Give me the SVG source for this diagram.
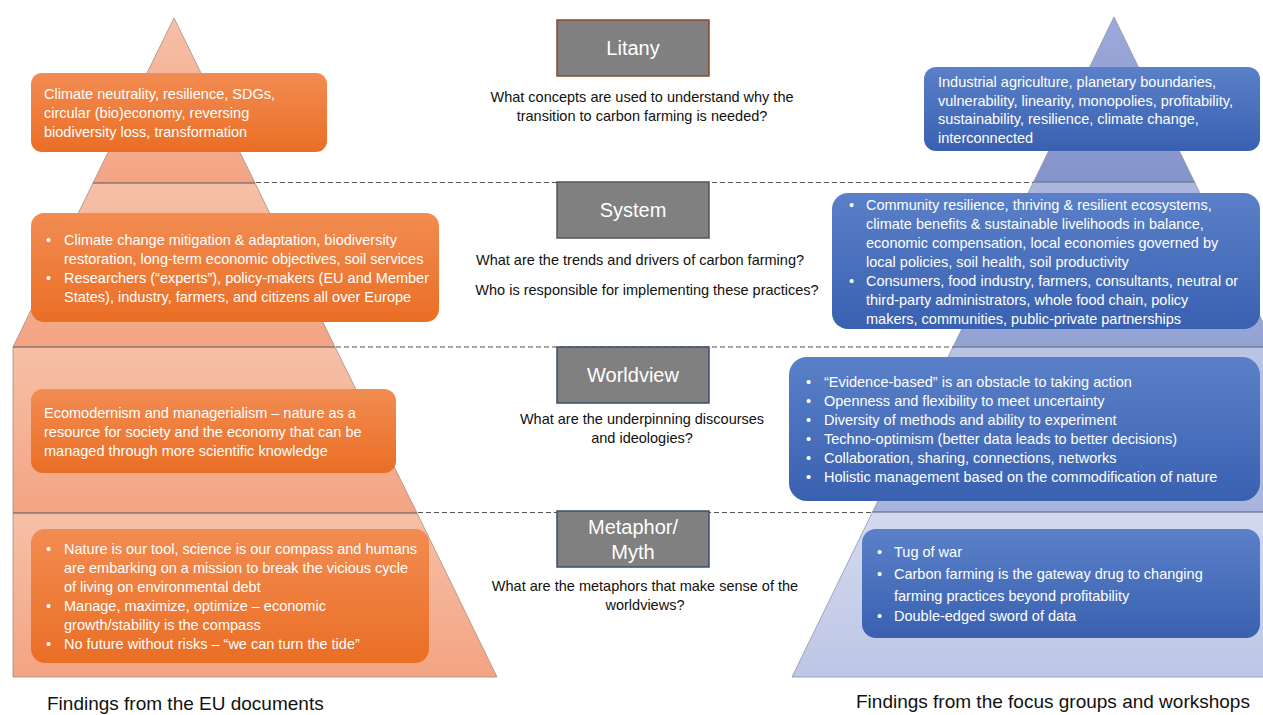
<svg xmlns="http://www.w3.org/2000/svg" width="1263" height="715" viewBox="0 0 1263 715">
<defs>
<linearGradient id="gOrTier" x1="0" y1="0" x2="0" y2="1"><stop offset="0" stop-color="#F6C0A7"/><stop offset="1" stop-color="#F3A483"/></linearGradient>
<linearGradient id="gBl1" x1="0" y1="0" x2="0" y2="1"><stop offset="0" stop-color="#9DAADA"/><stop offset="1" stop-color="#8494CB"/></linearGradient>
<linearGradient id="gBl2" x1="0" y1="0" x2="0" y2="1"><stop offset="0" stop-color="#ABB7DF"/><stop offset="1" stop-color="#93A2D3"/></linearGradient>
<linearGradient id="gBl3" x1="0" y1="0" x2="0" y2="1"><stop offset="0" stop-color="#BAC4E5"/><stop offset="1" stop-color="#A8B4DC"/></linearGradient>
<linearGradient id="gBl4" x1="0" y1="0" x2="0" y2="1"><stop offset="0" stop-color="#D3D9EE"/><stop offset="1" stop-color="#BDC6E6"/></linearGradient>
<linearGradient id="gOrBox" x1="0" y1="0" x2="0" y2="1"><stop offset="0" stop-color="#F28C52"/><stop offset="1" stop-color="#EA6E25"/></linearGradient>
<linearGradient id="gBlBox" x1="0" y1="0" x2="0" y2="1"><stop offset="0" stop-color="#5B80C9"/><stop offset="1" stop-color="#3961B0"/></linearGradient>
<clipPath id="clipR"><rect x="0" y="0" width="1263" height="715"/></clipPath>
</defs>
<style>
.ot{fill:url(#gOrTier);stroke:#A88B80;stroke-width:0.8}
.tl{stroke:#7D6A62;stroke-width:1.2}
.tlb{stroke:#6C7389;stroke-width:1.2}
.bt{stroke:#8E93A8;stroke-width:0.8}
.ob{fill:url(#gOrBox)}
.bb{fill:url(#gBlBox)}
.gb{fill:#808080;stroke-width:1.5}
.dash{stroke:#555;stroke-width:1.2;stroke-dasharray:5 3;fill:none}
text{font-family:"Liberation Sans",Arial,sans-serif}
.w{fill:#fff;font-size:14.5px}
.q{fill:#111;font-size:14.5px;text-anchor:middle}
.lab{fill:#fff;font-size:20px;text-anchor:middle}
.foot{fill:#111;font-size:19px}
</style>

<g id="pyramid-left">
<polygon class="ot" points="174,18 255,183 93,183"/>
<polygon class="ot" points="93,183 255,183 335,347 13,347"/>
<polygon class="ot" points="13,347 335,347 417,513 13,513"/>
<polygon class="ot" points="13,513 417,513 497,677 13,677"/>
<line class="tl" x1="93" y1="183" x2="255" y2="183"/>
<line class="tl" x1="13" y1="347" x2="335" y2="347"/>
<line class="tl" x1="13" y1="513" x2="417" y2="513"/>
</g>

<g id="pyramid-right" clip-path="url(#clipR)">
<polygon fill="url(#gBl1)" class="bt" points="1114,17 1194.5,182 1033.5,182"/>
<polygon fill="url(#gBl2)" class="bt" points="1033.5,182 1194.5,182 1275,347 953,347"/>
<polygon fill="url(#gBl3)" class="bt" points="953,347 1300,347 1300,512 872.5,512"/>
<polygon fill="url(#gBl4)" class="bt" points="872.5,512 1300,512 1300,677 792,677"/>
<line class="tlb" x1="1033.5" y1="182" x2="1194.5" y2="182"/>
<line class="tlb" x1="953" y1="347" x2="1263" y2="347"/>
<line class="tlb" x1="872.5" y1="512" x2="1263" y2="512"/>
</g>

<g id="connectors">
<line class="dash" x1="256" y1="182.5" x2="1033" y2="182.5"/>
<line class="dash" x1="336" y1="347" x2="953" y2="347"/>
<line class="dash" x1="418" y1="512.5" x2="872" y2="512.5"/>
</g>

<g id="label-litany">
<rect class="gb" x="557" y="20" width="152" height="56" stroke="#8B4A2B"/>
<text class="lab" x="633" y="55">Litany</text>
<text class="q" x="642" y="102">What concepts are used to understand why the</text>
<text class="q" x="642" y="121">transition to carbon farming is needed?</text>
</g>
<g id="label-system">
<rect class="gb" x="557" y="182" width="152" height="56" stroke="#555"/>
<text class="lab" x="633" y="217">System</text>
<text class="q" x="640" y="265">What are the trends and drivers of carbon farming?</text>
<text class="q" x="647" y="295">Who is responsible for implementing these practices?</text>
</g>
<g id="label-worldview">
<rect class="gb" x="557" y="347" width="152" height="56" stroke="#3B4E6E"/>
<text class="lab" x="633" y="382">Worldview</text>
<text class="q" x="642" y="424">What are the underpinning discourses</text>
<text class="q" x="642" y="443">and ideologies?</text>
</g>
<g id="label-metaphor">
<rect class="gb" x="557" y="511" width="152" height="56" stroke="#3B4E6E"/>
<text class="lab" x="633" y="534">Metaphor/</text>
<text class="lab" x="633" y="559">Myth</text>
<text class="q" x="645" y="591">What are the metaphors that make sense of the</text>
<text class="q" x="645" y="610">worldviews?</text>
</g>

<g id="eu-litany">
<rect class="ob" x="31" y="73" width="296" height="79" rx="11"/>
<text class="w" x="44" y="99">Climate neutrality, resilience, SDGs,</text>
<text class="w" x="44" y="118">circular (bio)economy, reversing</text>
<text class="w" x="44" y="137">biodiversity loss, transformation</text>
</g>
<g id="eu-system">
<rect class="ob" x="31" y="213" width="408" height="109" rx="13"/>
<text class="w" x="46" y="245">•</text>
<text class="w" x="64" y="245">Climate change mitigation &amp; adaptation, biodiversity</text>
<text class="w" x="64" y="264">restoration, long-term economic objectives, soil services</text>
<text class="w" x="46" y="283">•</text>
<text class="w" x="64" y="283">Researchers (“experts”), policy-makers (EU and Member</text>
<text class="w" x="64" y="302">States), industry, farmers, and citizens all over Europe</text>
</g>
<g id="eu-worldview">
<rect class="ob" x="31" y="389" width="365" height="84" rx="12"/>
<text class="w" x="44" y="418">Ecomodernism and managerialism – nature as a</text>
<text class="w" x="44" y="437">resource for society and the economy that can be</text>
<text class="w" x="44" y="456">managed through more scientific knowledge</text>
</g>
<g id="eu-metaphor">
<rect class="ob" x="31" y="529" width="398" height="134" rx="14"/>
<text class="w" x="46" y="554">•</text>
<text class="w" x="64" y="554">Nature is our tool, science is our compass and humans</text>
<text class="w" x="64" y="573">are embarking on a mission to break the vicious cycle</text>
<text class="w" x="64" y="592">of living on environmental debt</text>
<text class="w" x="46" y="611">•</text>
<text class="w" x="64" y="611">Manage, maximize, optimize – economic</text>
<text class="w" x="64" y="630">growth/stability is the compass</text>
<text class="w" x="46" y="649">•</text>
<text class="w" x="64" y="649">No future without risks – “we can turn the tide”</text>
</g>

<g id="fg-litany">
<rect class="bb" x="924" y="67" width="336" height="84" rx="12"/>
<text class="w" x="938" y="87">Industrial agriculture, planetary boundaries,</text>
<text class="w" x="938" y="106">vulnerability, linearity, monopolies, profitability,</text>
<text class="w" x="938" y="124">sustainability, resilience, climate change,</text>
<text class="w" x="938" y="143">interconnected</text>
</g>
<g id="fg-system">
<rect class="bb" x="832" y="193" width="428" height="136" rx="16"/>
<text class="w" x="849" y="210">•</text>
<text class="w" x="866" y="210">Community resilience, thriving &amp; resilient ecosystems,</text>
<text class="w" x="866" y="229">climate benefits &amp; sustainable livelihoods in balance,</text>
<text class="w" x="866" y="248">economic compensation, local economies governed by</text>
<text class="w" x="866" y="267">local policies, soil health, soil productivity</text>
<text class="w" x="849" y="286">•</text>
<text class="w" x="866" y="286">Consumers, food industry, farmers, consultants, neutral or</text>
<text class="w" x="866" y="305">third-party administrators, whole food chain, policy</text>
<text class="w" x="866" y="324">makers, communities, public-private partnerships</text>
</g>
<g id="fg-worldview">
<rect class="bb" x="789" y="357" width="471" height="144" rx="18"/>
<text class="w" x="806" y="387">•</text>
<text class="w" x="824" y="387">“Evidence-based” is an obstacle to taking action</text>
<text class="w" x="806" y="406">•</text>
<text class="w" x="824" y="406">Openness and flexibility to meet uncertainty</text>
<text class="w" x="806" y="425">•</text>
<text class="w" x="824" y="425">Diversity of methods and ability to experiment</text>
<text class="w" x="806" y="444">•</text>
<text class="w" x="824" y="444">Techno-optimism (better data leads to better decisions)</text>
<text class="w" x="806" y="463">•</text>
<text class="w" x="824" y="463">Collaboration, sharing, connections, networks</text>
<text class="w" x="806" y="482">•</text>
<text class="w" x="824" y="482">Holistic management based on the commodification of nature</text>
</g>
<g id="fg-metaphor">
<rect class="bb" x="862" y="529" width="398" height="109" rx="14"/>
<text class="w" x="877" y="557">•</text>
<text class="w" x="894" y="557">Tug of war</text>
<text class="w" x="877" y="579">•</text>
<text class="w" x="894" y="579">Carbon farming is the gateway drug to changing</text>
<text class="w" x="894" y="601">farming practices beyond profitability</text>
<text class="w" x="877" y="621">•</text>
<text class="w" x="894" y="621">Double-edged sword of data</text>
</g>

<g id="footers">
<text class="foot" x="47" y="710">Findings from the EU documents</text>
<text class="foot" x="856" y="708">Findings from the focus groups and workshops</text>
</g>
</svg>
